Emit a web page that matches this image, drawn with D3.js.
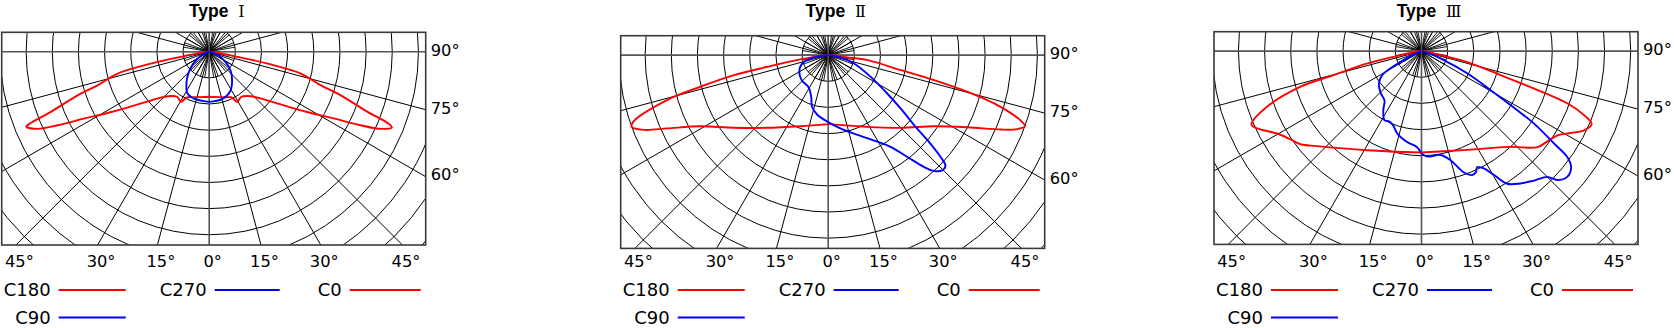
<!DOCTYPE html>
<html><head><meta charset="utf-8">
<script src="https://cdn.jsdelivr.net/npm/d3@7"></script>
<style>html,body{margin:0;padding:0;background:#fff;overflow:hidden}</style>
</head><body><svg id="c" width="1674" height="328"></svg>
<script>
// ---------- DATA (gamma angle in degrees from nadir, intensity in cd/klm) ----------
const titles = ["Type Ⅰ", "Type Ⅱ", "Type Ⅲ"];
const bottomTicks = [-45, -30, -15, 0, 15, 30, 45];
const sideTicks = [90, 75, 60];
const ringValues = [25, 50, 75, 100, 125, 150, 175, 200, 225, 250, 275, 300];
const legendNames = ["C180", "C270", "C0", "C90"];
const legendColors = ["#ff0000", "#0000ff", "#ff0000", "#0000ff"];

const typeI_C180 = [[-90,0],[-84,6],[-80,24],[-78.5,56],[-76.6,90],[-73.3,111],[-71.7,132],[-69.2,162],[-68.2,184],[-67.7,189],[-65.8,180],[-64.1,161],[-61.8,135],[-58.4,110],[-54.3,88],[-47.5,66],[-42.8,58],[-35.6,53],[-32,54],[-29.3,55],[-26.5,49],[-25,48],[-15,45],[0,43]];
const typeI_C270 = [[-90,0],[-80,2],[-65.7,8],[-53.3,19],[-43.6,29],[-36,37],[-27.5,45],[-18.6,47],[0,48]];
const typeI_C0   = [[0,43],[15,45],[25,48],[26.5,49],[29,55],[32,54],[35.6,53],[42.8,58],[47.5,66],[54.3,88],[58.4,110],[61.8,135],[64.1,161],[65.8,180],[67.5,189],[68.2,184],[69.2,162],[71.7,132],[73.3,111],[76.6,90],[78.5,56],[80,24],[84,6],[90,0]];
const typeI_C90  = [[0,48],[15,47],[27.7,43],[38.7,35],[48.9,27],[58,18],[70.7,8],[80,2],[90,0]];

const typeII_C180 = [[-90,0],[-86,4],[-81.2,27],[-79.1,59],[-78,92],[-76.1,126],[-74.4,160],[-71.1,197],[-69.9,200],[-67.9,190],[-65.5,169],[-60.9,140],[-52.5,114],[-40.2,91],[-21.4,73],[0,66]];
const typeII_C270 = [[-90,0],[-80.7,14],[-72.3,26],[-59.8,32],[-46.1,35],[-31.4,36],[-22.2,43],[-17.2,52],[-10.4,58],[0,64]];
const typeII_C0   = [[0,66],[19.9,72],[28.4,78],[44.8,98],[56.1,122],[62.6,150],[66.7,180],[68.6,194],[70.1,200],[71,196],[73.3,172],[75.2,138],[76.7,104],[78.3,71],[82.7,38],[83.2,18],[87,4],[90,0]];
const typeII_C90  = [[0,64],[9.5,71],[18.2,79],[29.5,95],[34.2,106],[37.8,123],[40.6,141],[42.4,150],[44.7,155],[46.7,154],[47.8,145],[49.4,125],[50.8,106],[53.6,86],[57,67],[62.8,46],[72.1,26],[79.4,12],[90,0]];

const typeIII_C180 = [[-90,0],[-84,4],[-79.2,20],[-77.2,53],[-74.7,87],[-73.6,121],[-70.2,157],[-66.7,177],[-64.6,173],[-60.3,159],[-56,151],[-52.4,146],[-47.7,135],[-28.7,108],[0,97]];
const typeIII_C270 = [[-90,0],[-68,4],[-63,23],[-58.6,44],[-52.9,51],[-44.1,56],[-36.8,59],[-33,67],[-28.2,75],[-25.1,74],[-20.9,76],[-16.5,82],[-9,88],[-2.6,92],[0,98]];
const typeIII_C0   = [[0,97],[24.8,104],[42.9,125],[50.4,144],[54.2,148],[58.2,153],[61.3,163],[64,173],[66.8,177],[68.5,167],[70.3,148],[71.6,113],[73.1,79],[76.5,45],[78,18],[84,4],[90,0]];
const typeIII_C90  = [[0,98],[3.1,101],[10.4,101],[14.9,108],[19.3,123],[22.2,128],[24.1,127],[25.7,123],[28,127],[30.3,137],[32.9,151],[36.8,158],[41,164],[45,170],[46.5,179],[49.2,184],[52.2,181],[54,172],[55.1,155],[57.2,128],[58.3,108],[60.5,76],[64,49],[68,23],[75,5],[90,0]];

const panelSeries = [
  [typeI_C180, typeI_C270, typeI_C0, typeI_C90],
  [typeII_C180, typeII_C270, typeII_C0, typeII_C90],
  [typeIII_C180, typeIII_C270, typeIII_C0, typeIII_C90]
];

// ---------- LAYOUT ----------
const svg = d3.select("#c");
const panels = [{fx:1.7, fy:32.3}, {fx:620.7, fy:35.7}, {fx:1214, fy:31.7}];
const FW = 424, FH = 212.7, CX = 207.5, CY = 19.4;
const rScale = d3.scaleLinear().domain([0, 25]).range([0, 26.15]);
const rad = g => g * Math.PI / 180;
const ang = g => Math.PI - rad(g);
const lineGen = d3.lineRadial()
  .angle(d => ang(d[0]))
  .radius(d => rScale(d[1]))
  .curve(d3.curveCatmullRom.alpha(0.5));
const defs = svg.append("defs");
const labelFont = "'DejaVu Sans', 'Liberation Sans', sans-serif";

panels.forEach((p, i) => {
  const cx = p.fx + CX, cy = p.fy + CY;
  defs.append("clipPath").attr("id", "clip" + i)
    .append("rect").attr("x", p.fx).attr("y", p.fy).attr("width", FW).attr("height", FH);
  const g = svg.append("g");
  const inner = g.append("g").attr("clip-path", `url(#clip${i})`);
  const grid = inner.append("g").attr("transform", `translate(${cx},${cy})`);

  grid.selectAll("circle").data(ringValues).join("circle")
    .attr("r", d => rScale(d)).attr("fill", "none").attr("stroke", "#000").attr("stroke-width", 1);

  const r1 = rScale(ringValues[0]);
  grid.selectAll("line.sp").data(d3.range(0, 360, 10)).join("line").attr("class", "sp")
    .attr("x1", 0).attr("y1", 0)
    .attr("x2", d => r1 * Math.sin(rad(d))).attr("y2", d => r1 * Math.cos(rad(d)))
    .attr("stroke", "#000").attr("stroke-width", 0.9);

  const R = 500;
  grid.selectAll("line.lg").data(d3.range(0, 360, 15).filter(d => d % 90 !== 0)).join("line").attr("class", "lg")
    .attr("x1", 0).attr("y1", 0)
    .attr("x2", d => R * Math.sin(rad(d))).attr("y2", d => R * Math.cos(rad(d)))
    .attr("stroke", "#000").attr("stroke-width", 1);
  grid.selectAll("line.ax").data([0, 90, 180, 270]).join("line").attr("class", "ax")
    .attr("x1", 0).attr("y1", 0)
    .attr("x2", d => R * Math.sin(rad(d))).attr("y2", d => R * Math.cos(rad(d)))
    .attr("stroke", "#555").attr("stroke-width", 1.6);

  grid.selectAll("path.curve").data(panelSeries[i]).join("path").attr("class", "curve")
    .attr("d", d => lineGen(d)).attr("fill", "none")
    .attr("stroke", (d, k) => legendColors[k]).attr("stroke-width", 1.9)
    .attr("stroke-linejoin", "round");

  g.append("rect").attr("x", p.fx).attr("y", p.fy).attr("width", FW).attr("height", FH)
    .attr("fill", "none").attr("stroke", "#3a3a3a").attr("stroke-width", 1.6);

  // title
  const parts = titles[i].split(" ");
  const t = g.append("text").attr("x", p.fx + FW / 2 + 3).attr("y", 16.5)
    .attr("text-anchor", "middle").attr("font-size", 17.5).attr("fill", "#000");
  t.append("tspan").attr("font-family", "'Liberation Sans', Arial, sans-serif").attr("font-weight", "bold").text(parts[0] + "\u00a0\u00a0");
  t.append("tspan").attr("font-family", "'DejaVu Serif', 'Liberation Serif', serif").attr("font-weight", "normal").attr("font-size", 16).text(parts[1]);

  // bottom tick labels
  const H = FH - CY;
  g.selectAll("text.bt").data(bottomTicks).join("text").attr("class", "bt")
    .attr("x", d => cx + Math.tan(rad(d)) * H + 3.5).attr("y", 266.8)
    .attr("text-anchor", "middle").attr("font-family", labelFont).attr("font-size", 16.3)
    .text(d => Math.abs(d) + "°");

  // side tick labels
  const W = FW - CX;
  g.selectAll("text.st").data(sideTicks).join("text").attr("class", "st")
    .attr("x", p.fx + FW + 5)
    .attr("y", d => cy + Math.tan(rad(90 - d)) * W - 2 + 5.8)
    .attr("font-family", labelFont).attr("font-size", 16.3)
    .text(d => d + "°");

  // legend
  const legPos = [{x1:57, x2:124, y:290}, {x1:213, x2:278, y:290}, {x1:348, x2:419, y:290}, {x1:57, x2:124, y:317.5}];
  legendNames.forEach((name, k) => {
    const lp = legPos[k];
    g.append("text").attr("x", p.fx + lp.x1 - 8).attr("y", lp.y + 6.4)
      .attr("text-anchor", "end").attr("font-family", labelFont).attr("font-size", 18).text(name);
    g.append("line").attr("x1", p.fx + lp.x1).attr("x2", p.fx + lp.x2).attr("y1", lp.y).attr("y2", lp.y)
      .attr("stroke", legendColors[k]).attr("stroke-width", 2);
  });
});
</script></body></html>
